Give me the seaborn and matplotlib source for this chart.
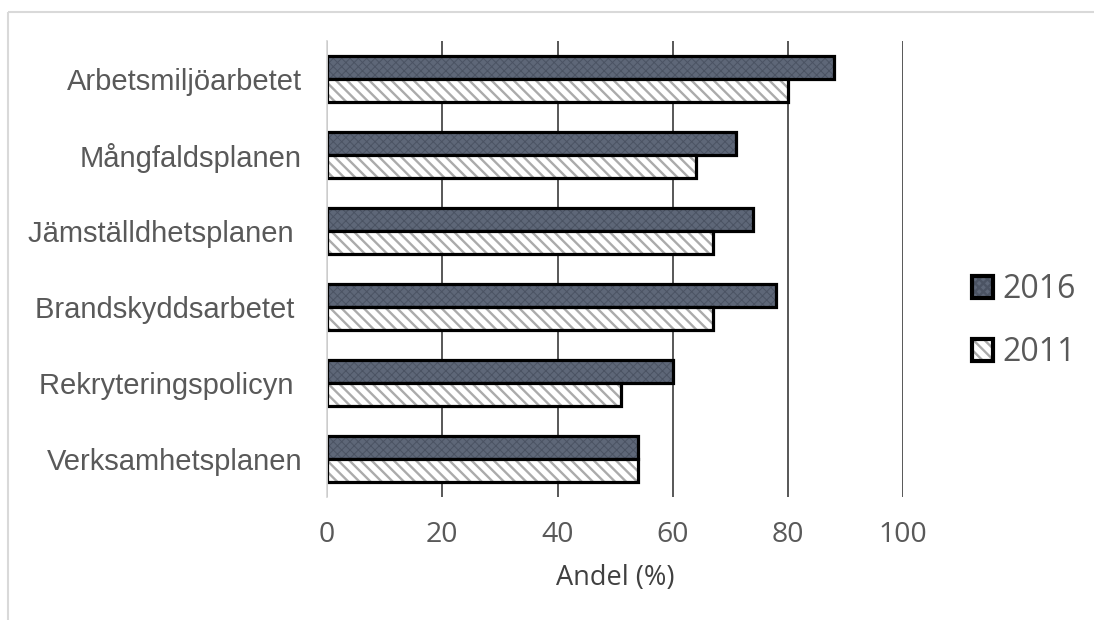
import matplotlib
matplotlib.use("Agg")
import matplotlib.pyplot as plt
import matplotlib.colors as mcolors
from matplotlib.lines import Line2D
import seaborn as sns
import pandas as pd

# Share (%) per plan/activity, two survey years
categories = [
    "Arbetsmiljöarbetet",
    "Mångfaldsplanen",
    "Jämställdhetsplanen ",
    "Brandskyddsarbetet ",
    "Rekryteringspolicyn ",
    "Verksamhetsplanen",
]
years = ["2016", "2011"]
values_2016 = [88, 71, 74, 78, 60, 54]
values_2011 = [80, 64, 67, 67, 51, 54]
x_ticks = [0, 20, 40, 60, 80, 100]
x_label = "Andel (%)"

df = pd.DataFrame({
    "kategori": categories * 2,
    "år": [years[0]] * len(categories) + [years[1]] * len(categories),
    "andel": values_2016 + values_2011,
})

sns.set_theme(style="white")
plt.rcParams["font.family"] = ["Liberation Sans", "DejaVu Sans"]
plt.rcParams["hatch.linewidth"] = 1.7

fig = plt.figure(figsize=(10.94, 6.2), dpi=100)
ax = fig.add_axes([0.299, 0.198, 0.5265, 0.736])

sns.barplot(
    data=df, y="kategori", x="andel", hue="år", hue_order=years,
    order=categories, orient="h", width=0.6, ax=ax, legend=True,
    palette=["#5e6778", "white"], saturation=1,
)

styles = {
    "2016": dict(face="#5e6778", hatch="xxxx", hatch_color="#4b5363", hlw=0.7),
    "2011": dict(face="white", hatch="\\\\\\", hatch_color="#ababab", hlw=1.7),
}

def style_patch(p, st, lw=2.3):
    p.set_facecolor(st["face"])
    p.set_edgecolor("black")
    p.set_linewidth(lw)
    p.set_hatch(st["hatch"])
    p._hatch_color = mcolors.to_rgba(st["hatch_color"])
    if hasattr(p, "set_hatch_linewidth"):
        p.set_hatch_linewidth(st["hlw"])
    p.set_joinstyle("miter")

for container, yr in zip(ax.containers, years):
    for p in container.patches:
        style_patch(p, styles[yr])

ax.set_xlim(0, 100)
ax.set_xticks(x_ticks)
ax.set_ylim(5.5, -0.5)
ax.grid(axis="x", color="#4a4a4a", linewidth=1.3)
ax.grid(axis="y", visible=False)
ax.set_axisbelow(True)
for s in ["top", "right", "bottom"]:
    ax.spines[s].set_visible(False)
ax.spines["left"].set_color("#d9d9d9")
ax.spines["left"].set_linewidth(1.3)

ax.tick_params(axis="both", length=0)
ax.tick_params(axis="y", pad=18, labelsize=21, labelcolor="#595959")
ax.tick_params(axis="x", pad=17, labelsize=20.5, labelcolor="#595959")
for lbl in ax.get_xticklabels():
    lbl.set_fontfamily(["Open Sans", "DejaVu Sans"])
ax.set_ylabel("")
ax.set_xlabel(x_label, fontsize=19.5, color="#404040", labelpad=11,
              fontfamily=["Open Sans", "DejaVu Sans"])

# legend on the right
handles, labels = ax.get_legend_handles_labels()
for h, yr in zip(handles, labels):
    style_patch(h, styles[yr], lw=3.0)
leg = ax.legend(
    handles, labels, loc="center left", bbox_to_anchor=(0.8885, 0.482),
    bbox_transform=fig.transFigure, frameon=False, borderpad=0,
    borderaxespad=0, handlelength=0.66, handleheight=0.66,
    handletextpad=0.3, labelspacing=0.95,
    prop={"family": ["Open Sans", "DejaVu Sans"], "size": 23},
)
for t in leg.get_texts():
    t.set_color("#595959")

# light chart-area frame along the top and left edges
frame_kw = dict(color="#d9d9d9", linewidth=1.5, transform=fig.transFigure,
                solid_capstyle="butt")
fig.add_artist(Line2D([8 / 1094, 1.0], [1 - 12 / 620, 1 - 12 / 620], **frame_kw))
fig.add_artist(Line2D([8 / 1094, 8 / 1094], [0.0, 1 - 12 / 620], **frame_kw))

fig.savefig("out.png", dpi=100)
